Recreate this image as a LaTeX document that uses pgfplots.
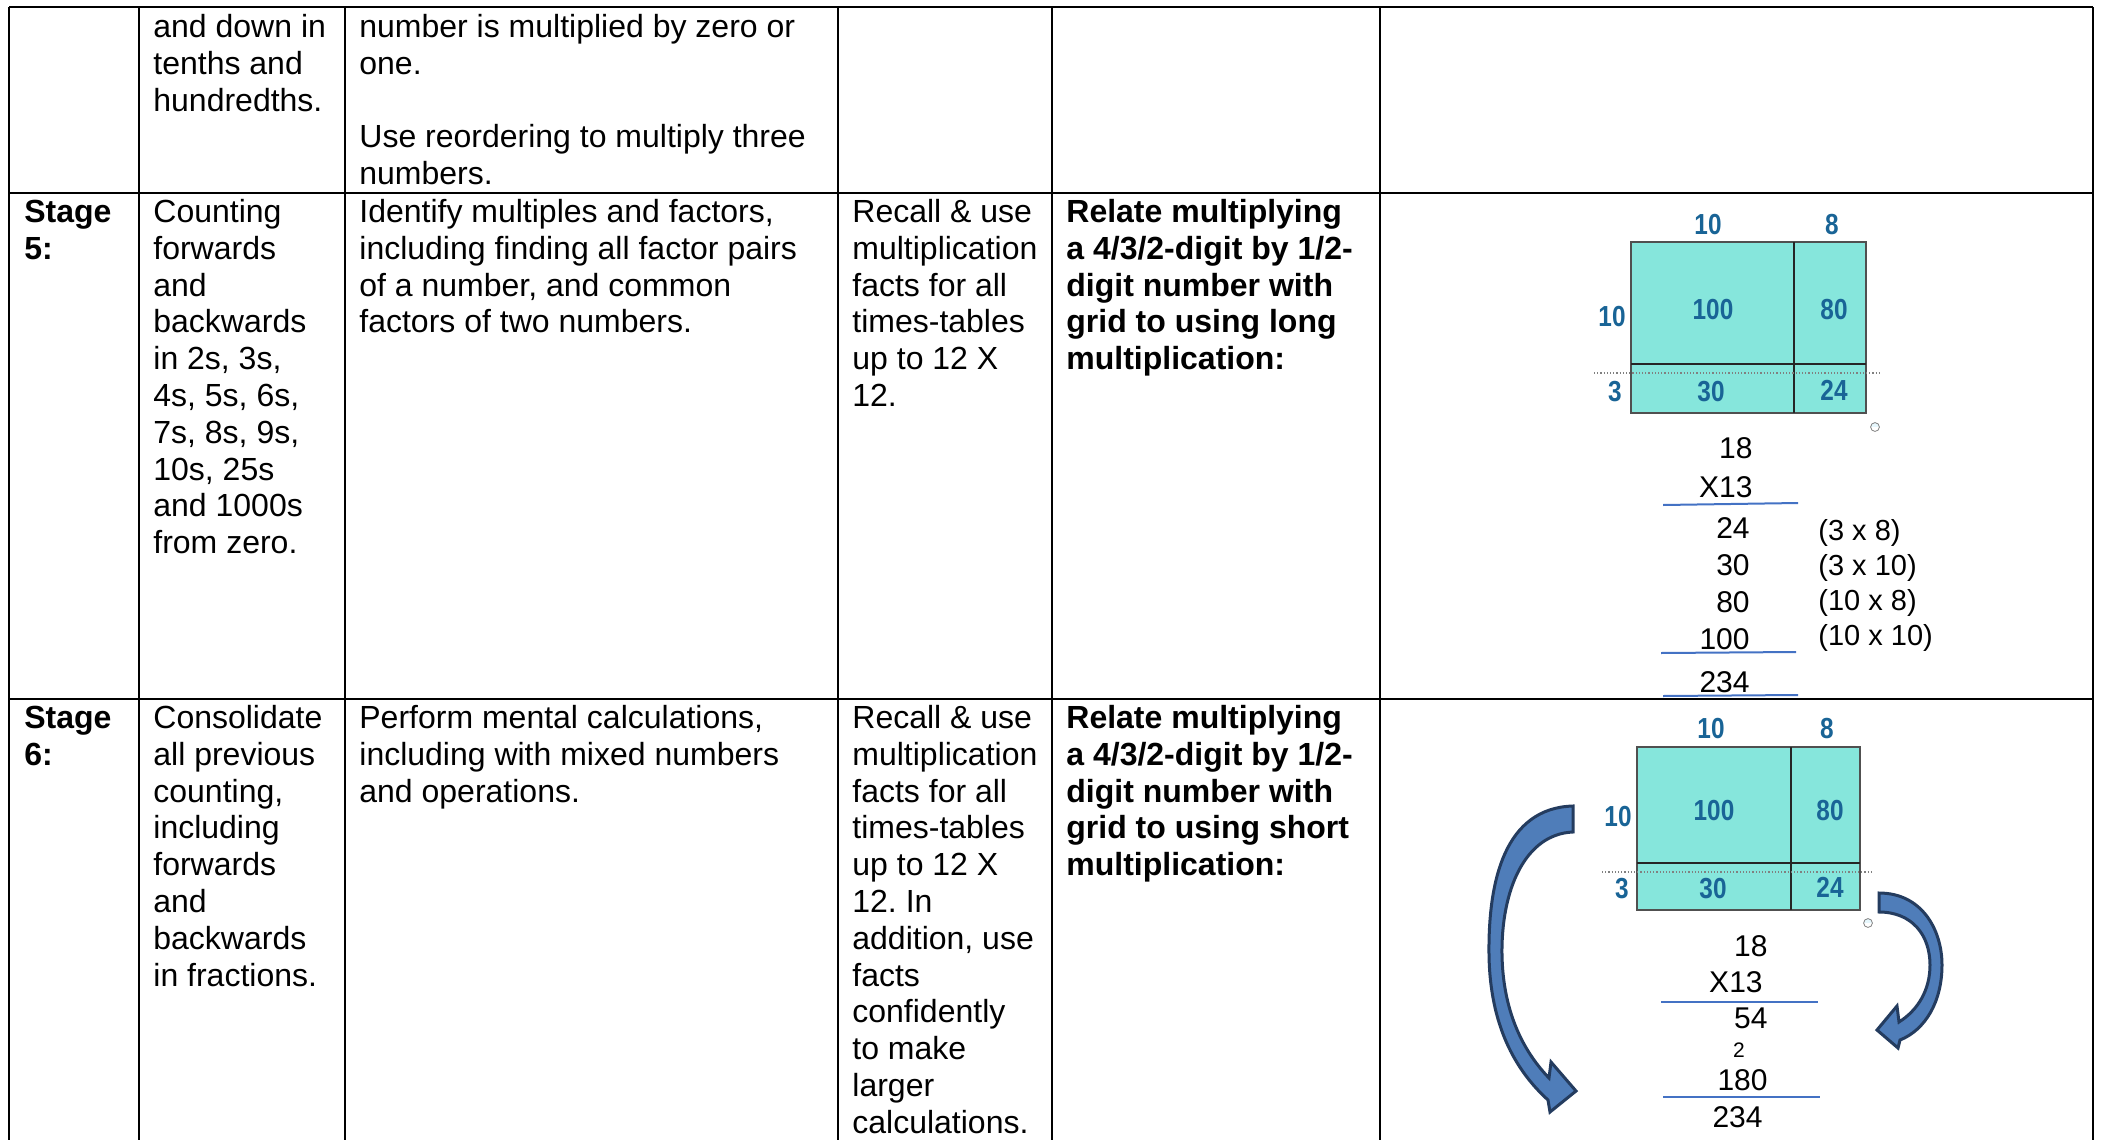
\documentclass[border=0pt]{standalone}
\usepackage{fontspec}
\setmainfont{Liberation Sans}
\usepackage{pgfplots}
\pgfplotsset{compat=1.18}
\frenchspacing
\definecolor{gridc}{RGB}{134,230,220}
\definecolor{gridedge}{RGB}{80,80,80}
\definecolor{labc}{RGB}{25,100,150}
\definecolor{mline}{RGB}{68,114,196}
\definecolor{arrfill}{RGB}{79,125,185}
\definecolor{arrdark}{RGB}{36,60,95}
\newcommand\fs{\rule{0pt}{12pt}}
\tikzset{
  cell/.style={anchor=north west, inner sep=0pt, align=left, font=\fontsize{16}{18.4}\selectfont},
  bcell/.style={cell, font=\fontsize{16}{18.4}\selectfont\bfseries},
  lab/.style={inner sep=0pt, anchor=center, text=labc, xscale=0.84, font=\fontsize{14.5}{16}\selectfont\bfseries},
  num/.style={inner sep=0pt, anchor=base east, font=\fontsize{15}{17}\selectfont},
  ann/.style={inner sep=0pt, anchor=base west, font=\fontsize{14.5}{17}\selectfont},
}
\begin{document}
\begin{tikzpicture}
\begin{axis}[scale only axis, width=1052.5pt, height=570pt,
  xmin=0, xmax=2105, ymin=0, ymax=1140, y dir=reverse,
  axis lines=none, clip=false]
% ---- grids (area model) ----
\addplot[fill=gridc, draw=gridedge, line width=1pt] coordinates {(1631,242) (1866,242) (1866,413) (1631,413)} --cycle;
\addplot[draw=black!85, line width=0.8pt] coordinates {(1794,242) (1794,413)};
\addplot[draw=black!85, line width=0.8pt] coordinates {(1631,364) (1866,364)};
\addplot[draw=gray, densely dotted, line width=0.6pt] coordinates {(1594,373) (1880,373)};
\addplot[fill=gridc, draw=gridedge, line width=1pt] coordinates {(1637,747) (1860,747) (1860,910) (1637,910)} --cycle;
\addplot[draw=black!85, line width=0.8pt] coordinates {(1791,747) (1791,910)};
\addplot[draw=black!85, line width=0.8pt] coordinates {(1637,863) (1860,863)};
\addplot[draw=gray, densely dotted, line width=0.6pt] coordinates {(1602,872) (1873,872)};
\addplot[only marks, mark=halfcircle*, mark size=2.2pt, mark options={fill=cyan!10, draw=gray}] coordinates {(1875,427) (1868,923)};
% ---- multiplication rules ----
\addplot[draw=mline, line width=1pt] coordinates {(1663,505) (1798,503)};
\addplot[draw=mline, line width=1pt] coordinates {(1661,653) (1796,652)};
\addplot[draw=mline, line width=1pt] coordinates {(1663,696) (1798,695)};
\addplot[draw=mline, line width=1pt] coordinates {(1661,1002) (1818,1002)};
\addplot[draw=mline, line width=1pt] coordinates {(1663,1097) (1820,1097)};
% ---- table rules ----
\addplot[black, line width=1.4pt] coordinates {(9,7) (2093,7)};
\addplot[black, line width=1.4pt] coordinates {(9,193) (2093,193)};
\addplot[black, line width=1.4pt] coordinates {(9,699) (2093,699)};
\addplot[black, line width=1.4pt] coordinates {(9,7) (9,1140)};
\addplot[black, line width=1.4pt] coordinates {(139,7) (139,1140)};
\addplot[black, line width=1.4pt] coordinates {(345,7) (345,1140)};
\addplot[black, line width=1.4pt] coordinates {(838,7) (838,1140)};
\addplot[black, line width=1.4pt] coordinates {(1052,7) (1052,1140)};
\addplot[black, line width=1.4pt] coordinates {(1380,7) (1380,1140)};
\addplot[black, line width=1.4pt] coordinates {(2093,7) (2093,1140)};
% ---- arrows ----
\draw[draw=arrdark, fill=arrfill, line width=1.5pt, line join=miter]
 (axis cs:1573,806) .. controls (axis cs:1505,808) and (axis cs:1488,880) .. (axis cs:1489,955)
 .. controls (axis cs:1490,1025) and (axis cs:1515,1070) .. (axis cs:1548,1100)
 -- (axis cs:1550,1112) -- (axis cs:1576,1091) -- (axis cs:1551,1062) -- (axis cs:1549,1078)
 .. controls (axis cs:1522,1050) and (axis cs:1503,1010) .. (axis cs:1502,955)
 .. controls (axis cs:1501,890) and (axis cs:1525,834) .. (axis cs:1573,832) -- cycle;
\draw[draw=arrdark, fill=arrfill, line width=1.5pt, line join=miter]
 (axis cs:1879,893) .. controls (axis cs:1922,893) and (axis cs:1942,930) .. (axis cs:1942,965)
 .. controls (axis cs:1942,1002) and (axis cs:1925,1030) .. (axis cs:1900,1040)
 -- (axis cs:1898,1048) -- (axis cs:1877,1030) -- (axis cs:1897,1006) -- (axis cs:1899,1022)
 .. controls (axis cs:1918,1010) and (axis cs:1930,990) .. (axis cs:1930,965)
 .. controls (axis cs:1930,935) and (axis cs:1912,912) .. (axis cs:1879,912) -- cycle;
% ---- grid labels ----
\node[lab] at (axis cs:1708,225) {10};
\node[lab] at (axis cs:1832,225) {8};
\node[lab] at (axis cs:1612,317) {10};
\node[lab] at (axis cs:1615,392) {3};
\node[lab] at (axis cs:1713,310) {100};
\node[lab] at (axis cs:1834,310) {80};
\node[lab] at (axis cs:1711,392) {30};
\node[lab] at (axis cs:1834,390) {24};
\node[lab] at (axis cs:1711,729) {10};
\node[lab] at (axis cs:1827,729) {8};
\node[lab] at (axis cs:1618,817) {10};
\node[lab] at (axis cs:1622,889) {3};
\node[lab] at (axis cs:1714,811) {100};
\node[lab] at (axis cs:1830,811) {80};
\node[lab] at (axis cs:1713,889) {30};
\node[lab] at (axis cs:1830,887) {24};
% ---- long multiplication ----
\node[num] at (axis cs:1753,458) {18};
\node[num] at (axis cs:1753,497) {X13};
\node[num] at (axis cs:1750,538) {24};
\node[num] at (axis cs:1750,575) {30};
\node[num] at (axis cs:1750,612) {80};
\node[num] at (axis cs:1750,649) {100};
\node[num] at (axis cs:1750,692) {234};
\node[ann] at (axis cs:1818,540) {(3 x 8)};
\node[ann] at (axis cs:1818,575) {(3 x 10)};
\node[ann] at (axis cs:1818,610) {(10 x 8)};
\node[ann] at (axis cs:1818,645) {(10 x 10)};
% ---- short multiplication ----
\node[num] at (axis cs:1768,956) {18};
\node[num] at (axis cs:1763,992) {X13};
\node[num] at (axis cs:1768,1028) {54};
\node[inner sep=0pt, anchor=base, font=\fontsize{10.5}{12}\selectfont] at (axis cs:1739,1057) {2};
\node[num] at (axis cs:1768,1090) {180};
\node[num] at (axis cs:1763,1127) {234};
% ---- row 0 ----
\node[cell] at (axis cs:153,13) {\fs and down in\\tenths and\\hundredths.};
\node[cell] at (axis cs:359,13) {\fs number is multiplied by zero or\\one.\\[18.4pt]Use reordering to multiply three\\numbers.};
% ---- row 1 ----
\node[bcell] at (axis cs:24,198) {\fs Stage\\5:};
\node[cell] at (axis cs:153,198) {\fs Counting\\forwards\\and\\backwards\\in 2s, 3s,\\4s, 5s, 6s,\\7s, 8s, 9s,\\10s, 25s\\and 1000s\\from zero.};
\node[cell] at (axis cs:359,198) {\fs Identify multiples and factors,\\including finding all factor pairs\\of a number, and common\\factors of two numbers.};
\node[cell] at (axis cs:852,198) {\fs Recall \& use\\multiplication\\facts for all\\times-tables\\up to 12 X\\12.};
\node[bcell] at (axis cs:1066,198) {\fs Relate multiplying\\a 4/3/2-digit by 1/2-\\digit number with\\grid to using long\\multiplication:};
% ---- row 2 ----
\node[bcell] at (axis cs:24,704) {\fs Stage\\6:};
\node[cell] at (axis cs:153,704) {\fs Consolidate\\all previous\\counting,\\including\\forwards\\and\\backwards\\in fractions.};
\node[cell] at (axis cs:359,704) {\fs Perform mental calculations,\\including with mixed numbers\\and operations.};
\node[cell] at (axis cs:852,704) {\fs Recall \& use\\multiplication\\facts for all\\times-tables\\up to 12 X\\12. In\\addition, use\\facts\\confidently\\to make\\larger\\calculations.};
\node[bcell] at (axis cs:1066,704) {\fs Relate multiplying\\a 4/3/2-digit by 1/2-\\digit number with\\grid to using short\\multiplication:};
\end{axis}
\pgfresetboundingbox
\path (current axis.south west) rectangle (current axis.north east);
\end{tikzpicture}
\end{document}
